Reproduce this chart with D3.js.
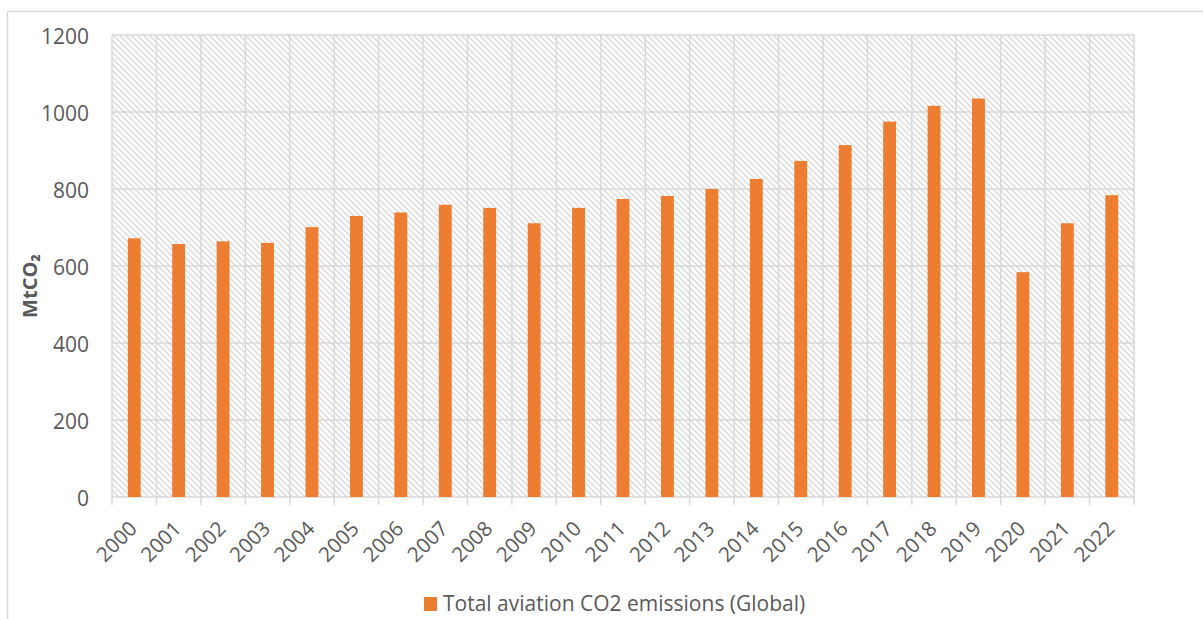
<!DOCTYPE html>
<html>
<head>
<meta charset="utf-8">
<script src="https://cdn.jsdelivr.net/npm/d3@7"></script>
<style>
  html, body { margin: 0; padding: 0; background: #fff; }
  svg { display: block; }
  text { font-family: "Open Sans", "Noto Sans", sans-serif; fill: #595959; }
</style>
</head>
<body>
<svg id="chart" width="1203" height="619"></svg>
<script>
const years = ["2000","2001","2002","2003","2004","2005","2006","2007","2008","2009","2010","2011","2012","2013","2014","2015","2016","2017","2018","2019","2020","2021","2022"];
const emissions = [672, 657, 664, 660, 701, 730, 739, 759, 751, 711, 751, 774, 782, 800, 826, 873, 914, 975, 1016, 1035, 584, 711, 784];
const yTicks = [0, 200, 400, 600, 800, 1000, 1200];
const seriesName = "Total aviation CO2 emissions (Global)";
const yTitle = "MtCO\u2082";

const svg = d3.select("#chart");
const W = 1203, H = 619;
const plot = { left: 112, right: 1134, top: 35, bottom: 497 };
const gridColor = "#d9d9d9";

// outer chart border (right/bottom lie outside the frame)
svg.append("rect")
  .attr("x", 7.5).attr("y", 11.5)
  .attr("width", W + 20).attr("height", H + 20)
  .attr("fill", "#fff").attr("stroke", gridColor).attr("stroke-width", 1.5);

// hatch pattern
const defs = svg.append("defs");
const pat = defs.append("pattern")
  .attr("id", "hatch").attr("patternUnits", "userSpaceOnUse")
  .attr("width", 6).attr("height", 6);
pat.append("rect").attr("width", 6).attr("height", 6).attr("fill", "#fff");
pat.append("path")
  .attr("d", "M0,0 L6,6 M-1,5 L1,7 M5,-1 L7,1")
  .attr("stroke", "#d8d8d8").attr("stroke-width", 1.3);

const x = d3.scaleBand().domain(years).range([plot.left, plot.right]).padding(0);
const y = d3.scaleLinear().domain([0, 1200]).range([plot.bottom, plot.top]);

svg.append("rect")
  .attr("x", plot.left).attr("y", plot.top)
  .attr("width", plot.right - plot.left).attr("height", plot.bottom - plot.top)
  .attr("fill", "url(#hatch)");

// horizontal gridlines
svg.append("g").selectAll("line").data(yTicks).join("line")
  .attr("x1", plot.left).attr("x2", plot.right)
  .attr("y1", d => y(d)).attr("y2", d => y(d))
  .attr("stroke", gridColor).attr("stroke-width", 1.5);

// vertical gridlines + ticks at category boundaries
const bounds = years.map(d => x(d)).concat([x(years[years.length - 1]) + x.bandwidth()]);
svg.append("g").selectAll("line").data(bounds).join("line")
  .attr("x1", d => d).attr("x2", d => d)
  .attr("y1", plot.top).attr("y2", plot.bottom + 8)
  .attr("stroke", gridColor).attr("stroke-width", 1.5);

// bars
const barW = x.step() * 0.29;
svg.append("g").selectAll("rect").data(years).join("rect")
  .attr("x", (d) => x(d) + x.bandwidth() / 2 - barW / 2)
  .attr("y", (d, i) => y(emissions[i]))
  .attr("width", barW)
  .attr("height", (d, i) => y(0) - y(emissions[i]))
  .attr("fill", "#ED7D31");

// y tick labels
svg.append("g").selectAll("text").data(yTicks).join("text")
  .attr("x", 89).attr("y", d => y(d) + 1)
  .attr("text-anchor", "end").attr("dominant-baseline", "central")
  .style("font-size", "21px")
  .text(d => d);

// x tick labels
svg.append("g").selectAll("text").data(years).join("text")
  .attr("transform", d => `translate(${x(d) + x.bandwidth() / 2 + 4},${530}) rotate(-45)`)
  .attr("text-anchor", "end")
  .style("font-size", "20.5px")
  .text(d => d);

// y axis title
svg.append("text")
  .attr("transform", `translate(37,${(plot.top + plot.bottom) / 2 + 20}) rotate(-90)`)
  .attr("text-anchor", "middle")
  .style("font-size", "20px").style("font-weight", "bold")
  .text(yTitle);

// legend
const lg = svg.append("g");
lg.append("rect").attr("x", 424).attr("y", 597).attr("width", 13).attr("height", 14).attr("fill", "#ED7D31");
lg.append("text").attr("x", 443).attr("y", 611)
  .style("font-size", "21px")
  .text(seriesName);
</script>
</body>
</html>
